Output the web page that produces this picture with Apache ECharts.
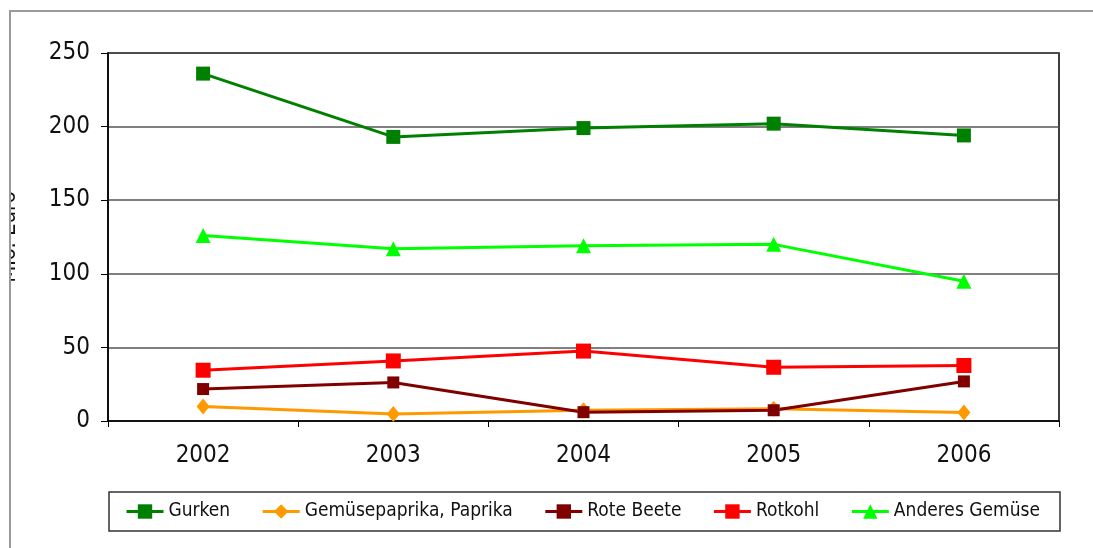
<!DOCTYPE html>
<html>
<head>
<meta charset="utf-8">
<script src="https://cdn.jsdelivr.net/npm/echarts@6/dist/echarts.min.js"></script>
<style>
html,body{margin:0;padding:0;background:#fff;}
#c{width:1093px;height:548px;}
</style>
</head>
<body>
<div id="c"></div>
<script>
var years = ['2002', '2003', '2004', '2005', '2006'];
var gurken = [236, 193, 199, 202, 194];
var paprika = [9.8, 4.8, 7.3, 8.4, 5.7];
var roteBeete = [21.7, 26.2, 6, 7.3, 26.9];
var rotkohl = [34.5, 40.8, 47.5, 36.5, 37.7];
var anderes = [126, 117, 119, 120, 95];
var yTicks = [0, 50, 100, 150, 200, 250];

var FONT = "'Liberation Sans Narrow', 'DejaVu Sans Condensed', 'Arial Narrow', sans-serif";
var chart = echarts.init(document.getElementById('c'), null, {renderer: 'canvas'});

function mk(name, data, color, symbol, size) {
  return {
    name: name, type: 'line', data: data,
    symbol: symbol, symbolSize: size,
    lineStyle: {color: color, width: 3},
    itemStyle: {color: color},
    animation: false
  };
}

chart.setOption({
  animation: false,
  backgroundColor: '#fff',
  textStyle: {fontFamily: FONT},
  grid: {left: 108, right: 34, top: 53, bottom: 127, show: true, borderColor: '#000', borderWidth: 1.5, containLabel: false, outerBoundsMode: 'none'},
  xAxis: {
    type: 'category', data: years, boundaryGap: true,
    axisLine: {lineStyle: {color: '#000', width: 1.5}},
    axisTick: {show: true, length: 6, lineStyle: {color: '#000'}},
    axisLabel: {fontFamily: FONT, fontSize: 24, color: '#111', margin: 23}
  },
  yAxis: {
    type: 'value', min: yTicks[0], max: yTicks[yTicks.length - 1], interval: 50,
    name: 'Mio. Euro', nameLocation: 'middle', nameGap: 88, nameRotate: 90,
    nameTextStyle: {fontFamily: FONT, fontSize: 22, color: '#111', verticalAlign: 'bottom'},
    axisLine: {show: true, lineStyle: {color: '#000', width: 1.5}},
    axisTick: {show: true, length: 7, lineStyle: {color: '#000'}},
    axisLabel: {fontFamily: FONT, fontSize: 24, color: '#111', margin: 18},
    splitLine: {show: true, lineStyle: {color: '#555', width: 1.5}}
  },
  legend: {
    left: 125, top: 502, padding: 0, itemGap: 31, itemWidth: 37, itemHeight: 18,
    lineStyle: {width: 3},
    textStyle: {fontFamily: FONT, fontSize: 19, color: '#111'},
    data: ['Gurken', 'Gemüsepaprika, Paprika', 'Rote Beete', 'Rotkohl', 'Anderes Gemüse']
  },
  graphic: [
    {type: 'rect', z: 100, shape: {x: 0, y: 0, width: 9, height: 548}, style: {fill: '#fff'}},
    {type: 'rect', z: 101, shape: {x: 10, y: 11, width: 1200, height: 700}, style: {fill: 'none', stroke: '#9a9a9a', lineWidth: 2}},
    {type: 'rect', z: 1, shape: {x: 109, y: 492, width: 951, height: 39}, style: {fill: 'none', stroke: '#333', lineWidth: 1.5}}
  ],
  series: [
    mk('Gurken', gurken, '#008000', 'rect', 14),
    mk('Gemüsepaprika, Paprika', paprika, '#FF9900', 'diamond', [13, 16]),
    mk('Rote Beete', roteBeete, '#800000', 'rect', 12),
    mk('Rotkohl', rotkohl, '#FF0000', 'rect', 15),
    mk('Anderes Gemüse', anderes, '#00FF00', 'triangle', 15)
  ]
});
</script>
</body>
</html>
